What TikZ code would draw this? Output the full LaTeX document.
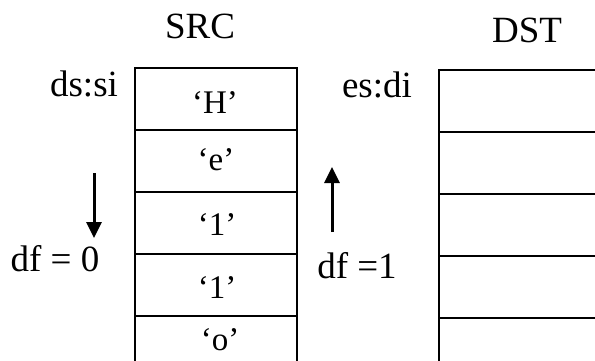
\documentclass[tikz,border=0pt]{standalone}
\usepackage{fontspec}
\setmainfont{Liberation Serif}
\usetikzlibrary{arrows.meta}
\tikzset{
  lbl/.style={inner sep=0pt, anchor=base, font=\fontsize{37}{42}\selectfont},
  cell/.style={draw, line width=1.8pt, minimum width=162pt, minimum height=62pt, inner sep=0pt, anchor=north west},
  dcell/.style={cell, minimum width=180pt},
  ctext/.style={inner sep=0pt, anchor=base, font=\fontsize{33}{38}\selectfont},
  dirarrow/.style={line width=3pt, -{Triangle[width=15pt,length=16pt]}}
}
\begin{document}
\begin{tikzpicture}[x=1pt,y=-1pt]
\useasboundingbox (0,0) rectangle (595,360);
\clip (0,0) rectangle (595,360);
% headers
\node[lbl] (src) at (200,38) {SRC};
\node[lbl] (dst) at (527,42) {DST};
% SRC cells
\node[cell] (s1) at (134,67) {};
\node[cell] (s2) at (134,129) {};
\node[cell] (s3) at (134,191) {};
\node[cell] (s4) at (134,253) {};
\node[cell] (s5) at (134,315) {};
% DST cells
\node[dcell] (d1) at (438,69) {};
\node[dcell] (d2) at (438,131) {};
\node[dcell] (d3) at (438,193) {};
\node[dcell] (d4) at (438,255) {};
\node[dcell] (d5) at (438,317) {};
% cell texts
\node[ctext] (tH) at (215,113) {‘H’};
\node[ctext] (te) at (216,170) {‘e’};
\node[ctext] (tl1) at (217,235) {‘1’};
\node[ctext] (tl2) at (217,298) {‘1’};
\node[ctext] (to) at (220,350) {‘o’};
% side labels
\node[lbl] (dssi) at (84,96) {ds:si};
\node[lbl] (esdi) at (377,97) {es:di};
\node[lbl] (df0) at (55,271) {df = 0};
\node[lbl] (df1) at (357,278) {df =1};
% arrows
\coordinate (a0s) at (94,173);
\coordinate (a0e) at (94,238);
\coordinate (a1s) at (332,232);
\coordinate (a1e) at (332,167);
\draw[dirarrow] (a0s) -- (a0e);
\draw[dirarrow] (a1s) -- (a1e);
\end{tikzpicture}
\end{document}
